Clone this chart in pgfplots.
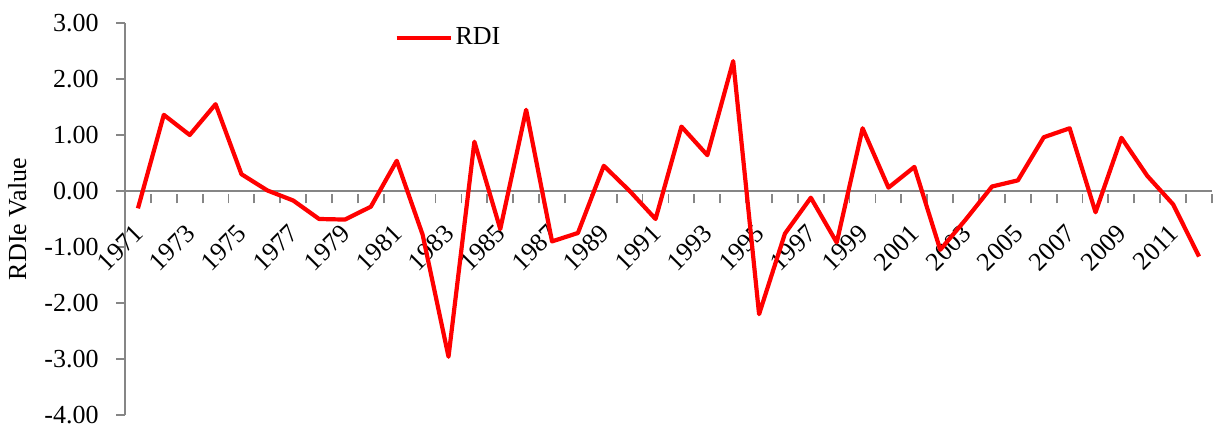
\documentclass[border=0pt]{standalone}
\usepackage{pgfplots}
\pgfplotsset{compat=1.18}
\usepackage{fontspec}
\setmainfont{Liberation Serif}
\definecolor{axisgray}{HTML}{868686}

\pgfplotstableread{
year rdi
1971 -0.31
1972 1.36
1973 1.00
1974 1.55
1975 0.30
1976 0.01
1977 -0.17
1978 -0.50
1979 -0.51
1980 -0.28
1981 0.54
1982 -0.78
1983 -2.96
1984 0.88
1985 -0.68
1986 1.45
1987 -0.90
1988 -0.75
1989 0.45
1990 0.00
1991 -0.50
1992 1.15
1993 0.64
1994 2.32
1995 -2.20
1996 -0.76
1997 -0.12
1998 -0.92
1999 1.12
2000 0.06
2001 0.43
2002 -1.05
2003 -0.50
2004 0.08
2005 0.19
2006 0.96
2007 1.12
2008 -0.38
2009 0.95
2010 0.27
2011 -0.24
2012 -1.17
}\rdidata

\begin{document}
\begin{tikzpicture}
\useasboundingbox (-62.5pt,-6.5pt) rectangle (545pt,207.5pt);
\begin{axis}[
    at={(0,0)}, anchor=south west,
    scale only axis,
    width=543.5pt, height=196pt,
    xmin=1970.5, xmax=2012.5,
    ymin=-4, ymax=3,
    axis x line=middle,
    axis y line=left,
    axis line style={-, axisgray, line width=0.9pt},
    every tick/.style={axisgray, line width=0.9pt},
    tick align=outside,
    % tick marks sit between the years
    xtick={1970.5,1971.5,...,2012.5},
    xticklabels={},
    x tick style={yshift=-1.75pt},
    % year labels sit on the years themselves
    extra x ticks={1971,1973,...,2011},
    extra x tick labels={1971,1973,1975,1977,1979,1981,1983,1985,1987,1989,1991,1993,1995,1997,1999,2001,2003,2005,2007,2009,2011},
    extra x tick style={major tick length=0pt},
    ytick={-4,-3,...,3},
    major tick length=4.5pt,
    /pgf/number format/assume math mode=true,
    yticklabel={\pgfmathprintnumber[fixed,fixed zerofill,precision=2]{\tick}},
    tick label style={font=\fontsize{13}{15}\selectfont, black},
    yticklabel style={anchor=east, inner sep=0pt, xshift=-8.5pt},
    xticklabel style={xshift=0.5pt, yshift=-19pt, rotate=45, anchor=east, inner sep=0pt},
    every axis y label/.style={at={(rel axis cs:0,0.5)}, xshift=-49pt, rotate=90, anchor=south, inner sep=0pt, font=\fontsize{13}{15}\selectfont},
    ylabel={RDIe Value},
    legend style={draw=none, fill=none, at={(0.2475,0.962)}, anchor=west, inner sep=0pt,
        nodes={inner sep=1.5pt}, font=\fontsize{13}{15}\selectfont},
    legend image code/.code={\draw[#1] (0pt,0pt) -- (27pt,0pt);},
]
\addplot[red, line width=2.1pt, line join=round] table[x=year, y=rdi] {\rdidata};
\addlegendentry{RDI}
\end{axis}
\end{tikzpicture}
\end{document}
